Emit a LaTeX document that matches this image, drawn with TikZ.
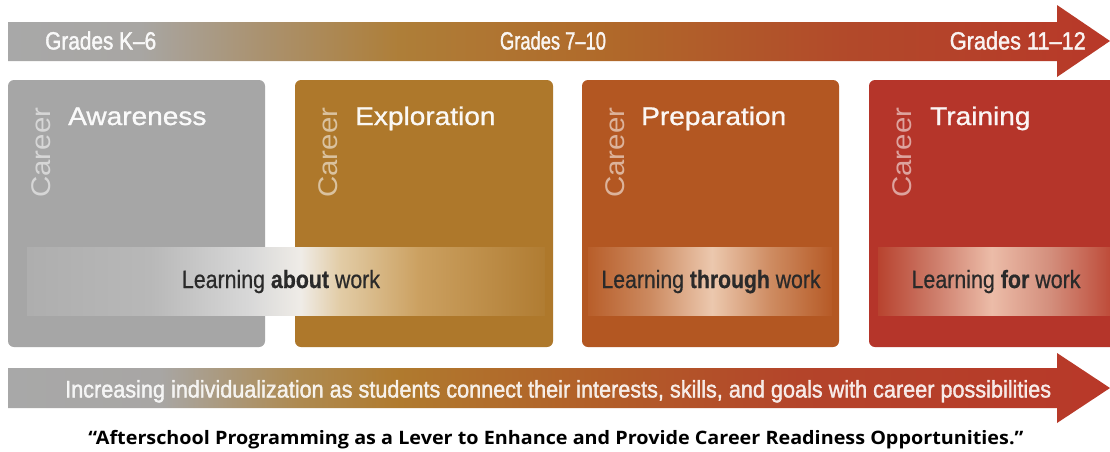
\documentclass[tikz,border=0pt]{standalone}
\usepackage{fontspec}
\usepackage{graphicx}
\setmainfont{Liberation Sans}
\newfontfamily\condf[FakeStretch=0.88, FakeBold=1.4]{Liberation Sans}
\newfontfamily\bandf[FakeStretch=0.9, FakeBold=0.6]{Liberation Sans}
\newfontfamily\titlef[FakeStretch=1.1, FakeBold=0.9]{Liberation Sans}
\newfontfamily\capf{Open Sans}
\newcommand{\fitw}[2]{\resizebox{#1}{\height}{#2}}

\definecolor{cgray}{HTML}{A6A6A6}
\definecolor{cgold}{HTML}{AE782B}
\definecolor{ccopper}{HTML}{B35722}
\definecolor{cred}{HTML}{B5352A}
\definecolor{txtdark}{HTML}{2A2A2A}

% top arrow gradient
\definecolor{t1}{HTML}{A8A8A8}
\definecolor{t2}{HTML}{A8A6A3}
\definecolor{t3}{HTML}{AA9270}
\definecolor{t4}{HTML}{AE7E38}
\definecolor{t5}{HTML}{B06A2A}
\definecolor{t6}{HTML}{B2492A}
\definecolor{t7}{HTML}{B83829}
\pgfdeclarehorizontalshading{topbar}{100bp}{
color(0bp)=(t1); color(25bp)=(t1); color(31bp)=(t2); color(36.4bp)=(t3);
color(42.8bp)=(t4); color(51.9bp)=(t5); color(63.2bp)=(t6); color(75bp)=(t7); color(100bp)=(t7)}
% bottom arrow gradient
\definecolor{b2}{HTML}{A8A6A4}
\definecolor{b3}{HTML}{AE8A50}
\definecolor{b4}{HTML}{B07A2E}
\definecolor{b5}{HTML}{B25E28}
\definecolor{b6}{HTML}{B4442A}
\pgfdeclarehorizontalshading{botbar}{100bp}{
color(0bp)=(t1); color(25bp)=(t1); color(31.9bp)=(b2); color(38.2bp)=(b3);
color(42.8bp)=(b4); color(51.9bp)=(b5); color(60.9bp)=(b6); color(75bp)=(t7); color(100bp)=(t7)}
% band 1
\definecolor{a1}{HTML}{AEAEAE}
\definecolor{a2}{HTML}{B8B8B8}
\definecolor{a3}{HTML}{D8D8D8}
\definecolor{a4}{HTML}{EFECE7}
\definecolor{a5}{HTML}{E2CCA6}
\definecolor{a6}{HTML}{CBA060}
\definecolor{a7}{HTML}{B07C32}
\pgfdeclarehorizontalshading{bandone}{100bp}{
color(0bp)=(a1); color(25bp)=(a1); color(36.9bp)=(a2); color(46.5bp)=(a3);
color(51.4bp)=(a4); color(55.2bp)=(a5); color(62.9bp)=(a6); color(75bp)=(a7); color(100bp)=(a7)}
% band 3
\definecolor{c1}{HTML}{B85E2A}
\definecolor{c2}{HTML}{CC8A60}
\definecolor{c3}{HTML}{ECC8AE}
\definecolor{c4}{HTML}{CE8C62}
\definecolor{c5}{HTML}{B65A26}
\pgfdeclarehorizontalshading{bandthree}{100bp}{
color(0bp)=(c1); color(25bp)=(c1); color(37.7bp)=(c2); color(50.4bp)=(c3);
color(62.3bp)=(c4); color(75bp)=(c5); color(100bp)=(c5)}
% band 4
\definecolor{d1}{HTML}{B8432F}
\definecolor{d2}{HTML}{CC7A68}
\definecolor{d3}{HTML}{ECBCA8}
\definecolor{d4}{HTML}{D38E7C}
\definecolor{d5}{HTML}{BE4C3A}
\pgfdeclarehorizontalshading{bandfour}{100bp}{
color(0bp)=(d1); color(25bp)=(d1); color(36.7bp)=(d2); color(49.5bp)=(d3);
color(62.2bp)=(d4); color(75bp)=(d5); color(100bp)=(d5)}

\tikzset{
  stagebox/.style={rounded corners=6pt},
  gradelbl/.style={font=\condf\fontsize{25}{25}\selectfont, text=white, text opacity=0.93, inner sep=0pt},
  titlelbl/.style={font=\titlef\fontsize{25.5}{25.5}\selectfont, text=white, text opacity=0.95, inner sep=0pt, anchor=base west},
  careerlbl/.style={font=\fontsize{27}{27}\selectfont, text=white, text opacity=0.55, inner sep=0pt, rotate=90, anchor=base west},
  bandlbl/.style={font=\bandf\fontsize{25}{25}\selectfont, text=txtdark, inner sep=0pt, anchor=base},
  arrowlbl/.style={font=\condf\fontsize{24}{24}\selectfont, text=white, text opacity=0.88, inner sep=0pt, anchor=base west},
  captionlbl/.style={font=\capf\bfseries\fontsize{18.5}{18.5}\selectfont, text=black, inner sep=0pt, anchor=base}
}

\begin{document}
\begin{tikzpicture}[x=1pt,y=-1pt]
\useasboundingbox (0,0) rectangle (1110,451);
\clip (0,0) rectangle (1110,451);
\fill[white] (0,0) rectangle (1110,451);

% top arrow
\shade[shading=topbar] (8,22) -- (1057,22) -- (1057,5) -- (1110,41) -- (1057,77) -- (1057,61) -- (8,61) -- cycle;
\node[gradelbl, anchor=base west] (gk6) at (45,49.5) {\fitw{111pt}{Grades K–6}};
\node[gradelbl, anchor=base] (g710) at (553,49.5) {\fitw{106pt}{Grades 7–10}};
\node[gradelbl, anchor=base east] (g1112) at (1086,49.5) {\fitw{136pt}{Grades 11–12}};

% bottom arrow
\shade[shading=botbar] (8,368) -- (1057,368) -- (1057,353) -- (1110,388) -- (1057,423) -- (1057,408) -- (8,408) -- cycle;

% boxes
\fill[stagebox, cgray] (8,80) rectangle (265,347);
\fill[stagebox, cgold] (295,80) rectangle (553,347);
\fill[stagebox, ccopper] (582,80) rectangle (839,347);
\fill[stagebox, cred] (869,80) rectangle (1125,347);

% bands
\shade[shading=bandone] (27,247) rectangle (545,315);
\shade[shading=bandthree] (588,247) rectangle (832,315);
\shade[shading=bandfour] (878,247) rectangle (1110,315);

% titles
\node[careerlbl] (car1) at (50,198) {\fitw{90pt}{Career}};
\node[careerlbl] (car2) at (337,198) {\fitw{90pt}{Career}};
\node[careerlbl] (car3) at (624,198) {\fitw{90pt}{Career}};
\node[careerlbl] (car4) at (911,198) {\fitw{90pt}{Career}};
\node[titlelbl] (aw) at (68,125) {Awareness};
\node[titlelbl] (ex) at (355,125) {Exploration};
\node[titlelbl] (pr) at (641,125) {Preparation};
\node[titlelbl] (tr) at (930,125) {Training};

% band labels
\node[bandlbl] (l1) at (281,288) {\fitw{198pt}{Learning \textbf{about} work}};
\node[bandlbl] (l3) at (711,288) {\fitw{219pt}{Learning \textbf{through} work}};
\node[bandlbl] (l4) at (996,288) {\fitw{169pt}{Learning \textbf{for} work}};

% bottom arrow label
\node[arrowlbl] (indiv) at (65,397.5) {\fitw{986pt}{Increasing individualization as students connect their interests, skills, and goals with career possibilities}};

% caption
\node[captionlbl] (cap) at (556,444) {\fitw{935pt}{“Afterschool Programming as a Lever to Enhance and Provide Career Readiness Opportunities.”}};
\end{tikzpicture}
\end{document}
